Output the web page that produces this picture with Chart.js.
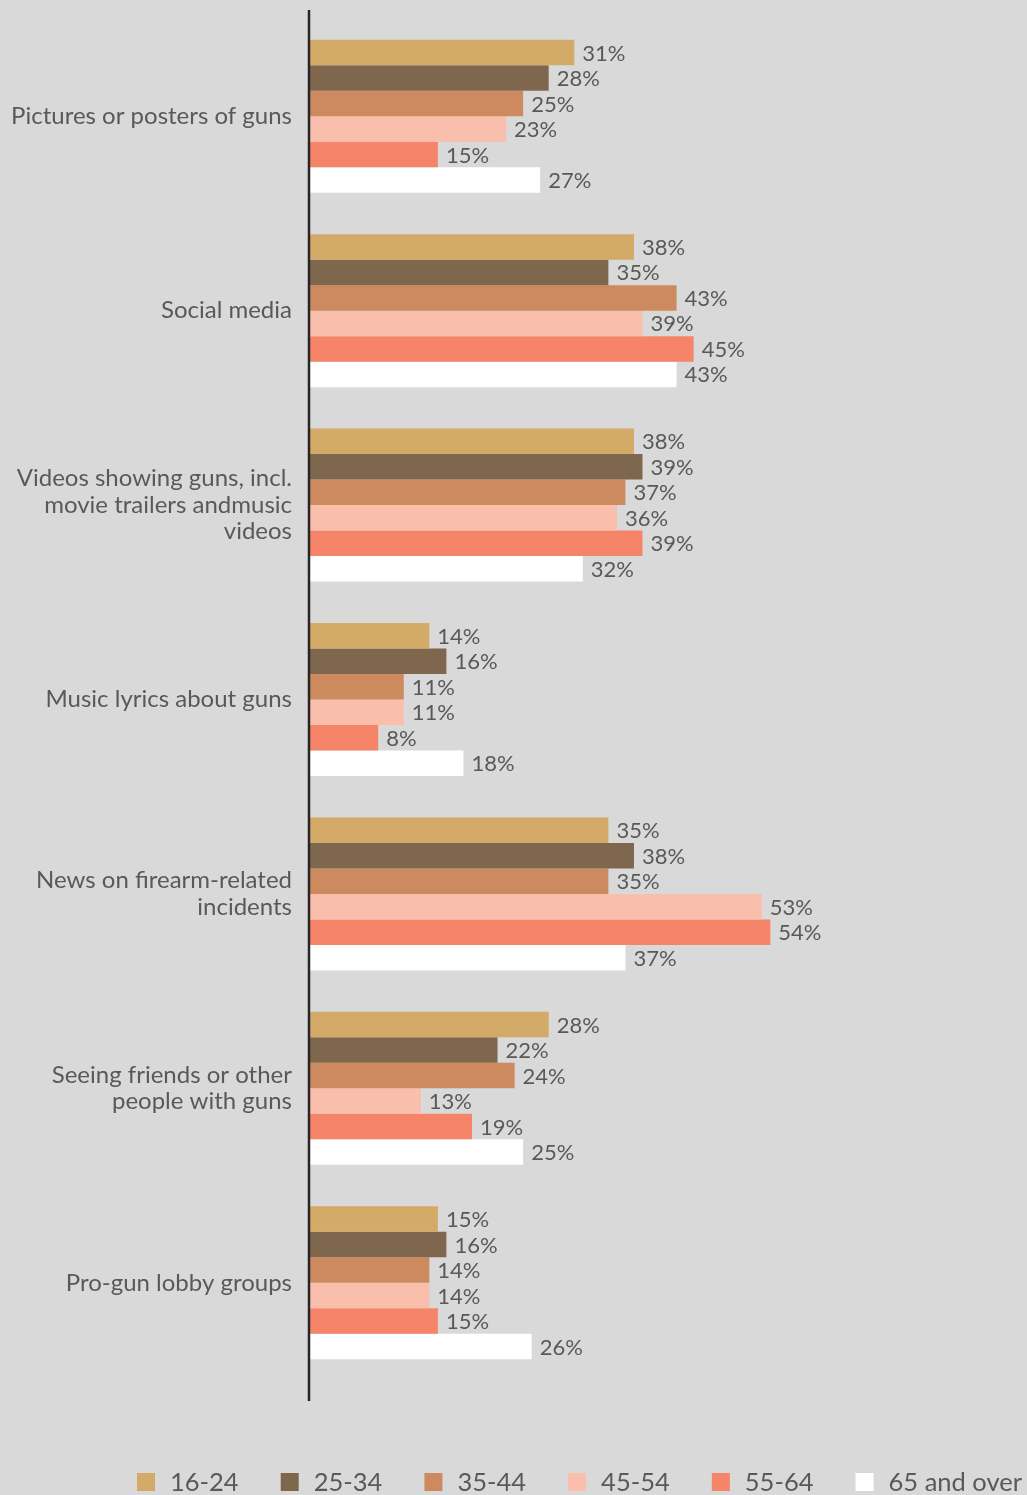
<!DOCTYPE html>
<html>
<head>
<meta charset="utf-8">
<script src="https://cdn.jsdelivr.net/npm/chart.js@4/dist/chart.umd.min.js"></script>
<style>
  html, body { margin: 0; padding: 0; background: #d9d9d9; }
  canvas { display: block; }
</style>
</head>
<body>
<canvas id="bar-graph" width="1027" height="1495"></canvas>
<script>
const categories = [
    'Pictures or posters of guns',
    'Social media',
    ['Videos showing guns, incl.', 'movie trailers andmusic', 'videos'],
    'Music lyrics about guns',
    ['News on firearm-related', 'incidents'],
    ['Seeing friends or other', 'people with guns'],
    'Pro-gun lobby groups'
];

const ageGroups = ['16-24', '25-34', '35-44', '45-54', '55-64', '65 and over'];

const age16to24 = [31, 38, 38, 14, 35, 28, 15];
const age25to34 = [28, 35, 39, 16, 38, 22, 16];
const age35to44 = [25, 43, 37, 11, 35, 24, 14];
const age45to54 = [23, 39, 36, 11, 53, 13, 14];
const age55to64 = [15, 45, 39, 8, 54, 19, 15];
const age65over = [27, 43, 32, 18, 37, 25, 26];

const colors = ['#d3aa67', '#7f674e', '#cd8a5e', '#fabead', '#f58468', '#ffffff'];
const textColor = '#595959';
const fontFamily = 'Lato, "Open Sans", sans-serif';

const seriesValues = [age16to24, age25to34, age35to44, age45to54, age55to64, age65over];

// value labels at the end of each bar
const barLabels = {
    id: 'barLabels',
    afterDatasetsDraw(chart) {
        const ctx = chart.ctx;
        ctx.save();
        ctx.font = '22px ' + fontFamily;
        ctx.fillStyle = textColor;
        ctx.textAlign = 'left';
        ctx.textBaseline = 'middle';
        chart.data.datasets.forEach((ds, i) => {
            chart.getDatasetMeta(i).data.forEach((bar, j) => {
                ctx.fillText(ds.data[j] + '%', bar.x + 8, bar.y + 1);
            });
        });
        ctx.restore();
    }
};

// axis line that runs a bit past the plot, plus the legend row at the bottom
const axisAndLegend = {
    id: 'axisAndLegend',
    afterDraw(chart) {
        const ctx = chart.ctx;
        const area = chart.chartArea;
        ctx.save();
        ctx.strokeStyle = '#262626';
        ctx.lineWidth = 2.5;
        ctx.beginPath();
        ctx.moveTo(area.left - 1, area.top - 9);
        ctx.lineTo(area.left - 1, area.bottom + 21);
        ctx.stroke();

        ctx.font = '25.5px ' + fontFamily;
        ctx.textBaseline = 'middle';
        const box = 18, boxGap = 15;
        const left = 137, right = 1022;
        const widths = chart.data.datasets.map(ds => box + boxGap + ctx.measureText(ds.label).width);
        const sum = widths.reduce((a, b) => a + b, 0);
        const itemGap = (right - left - sum) / (widths.length - 1);
        let x = left;
        const y = 1482;
        chart.data.datasets.forEach((ds, i) => {
            ctx.fillStyle = ds.backgroundColor;
            ctx.fillRect(x, y - 9, box, box);
            ctx.fillStyle = textColor;
            ctx.fillText(ds.label, x + box + boxGap, y + 1);
            x += widths[i] + itemGap;
        });
        ctx.restore();
    }
};

new Chart(
    document.getElementById('bar-graph'),
    {
        type: 'bar',
        data: {
            labels: categories,
            datasets: ageGroups.map((name, i) => ({
                label: name,
                data: seriesValues[i],
                backgroundColor: colors[i],
                borderWidth: 0,
                categoryPercentage: 0.787,
                barPercentage: 1
            }))
        },
        options: {
            indexAxis: 'y',
            responsive: false,
            animation: false,
            devicePixelRatio: 1,
            layout: {
                padding: { top: 19, bottom: 115, left: 0, right: 35 }
            },
            plugins: {
                legend: { display: false },
                tooltip: { enabled: false }
            },
            scales: {
                x: {
                    display: false,
                    min: 0,
                    max: 80
                },
                y: {
                    afterFit(scale) {
                        scale.width = 310;
                        scale.paddingTop = 0;
                        scale.paddingBottom = 0;
                    },
                    grid: { display: false, drawTicks: false },
                    border: { display: false },
                    ticks: {
                        padding: 18,
                        color: textColor,
                        font: { family: fontFamily, size: 24, lineHeight: 1.1 }
                    }
                }
            }
        },
        plugins: [barLabels, axisAndLegend]
    }
);
</script>
</body>
</html>
